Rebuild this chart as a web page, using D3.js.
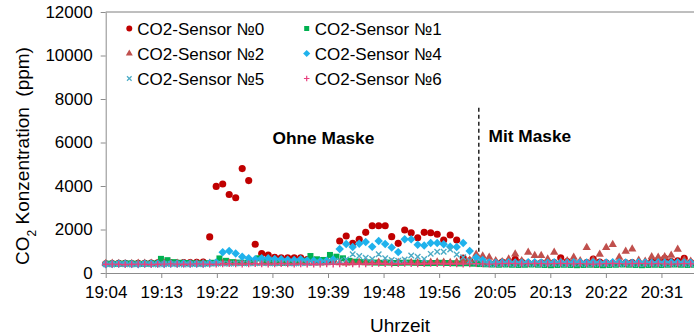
<!DOCTYPE html>
<html>
<head>
<meta charset="utf-8">
<script src="https://cdn.jsdelivr.net/npm/d3@7"></script>
<style>
  body { margin: 0; background: #fff; }
  svg { display: block; font-family: "Liberation Sans", Arial, sans-serif; }
</style>
</head>
<body>
<div id="chart"></div>
<script>
// minutes after 19:04, one sample per minute
const tickLabels = ['19:04', '19:13', '19:22', '19:30', '19:39', '19:48', '19:56', '20:05', '20:13', '20:22', '20:31'];
const tickStep = 8.55;
const yTicks = [0, 2000, 4000, 6000, 8000, 10000, 12000];

const seriesNames = ['CO2-Sensor №0', 'CO2-Sensor №1', 'CO2-Sensor №2', 'CO2-Sensor №4', 'CO2-Sensor №5', 'CO2-Sensor №6'];
const startOffsets = [0, 0.5, 0, 0, 0, 0];

const sensor0 = [
  420, 430, 440, 440, 430, 450, 450, 460, 470, 460,
  470, 460, 480, 480, 490, 500, 1660, 3980, 4090, 3610,
  3460, 4800, 4250, 1320, 890, 830, 720, 700, 700, 700,
  700, 620, 580, 560, 540, 560, 1470, 1700, 1365, 1550,
  1870, 2175, 2175, 2175, 1670, 1365, 1977, 1853, 1623, 1870,
  1853, 1780, 1517, 1747, 1517, 690, 560, 480, 460, 450,
  470, 500, 520, 630, 500, 460, 450, 470, 460, 480,
  700, 520, 470, 460, 480, 640, 500, 470, 450, 460,
  470, 480, 460, 450, 520, 600, 675, 520, 560, 675,
  480];
const sensor1 = [
  430, 420, 430, 440, 430, 420, 430, 440, 650, 590,
  500, 470, 460, 450, 440, 450, 470, 670, 560, 500,
  480, 470, 520, 675, 520, 480, 470, 460, 480, 500,
  560, 780, 630, 600, 830, 750, 675, 560, 520, 500,
  490, 480, 470, 480, 460, 470, 480, 470, 460, 450,
  460, 470, 460, 450, 440, 450, 430, 410, 400, 390,
  380, 390, 380, 370, 380, 390, 380, 370, 360, 370,
  380, 370, 360, 370, 380, 370, 360, 370, 380, 390,
  380, 370, 360, 370, 380, 370, 380, 390, 380, 370,
  380];
const sensor2 = [
  430, 440, 430, 420, 430, 440, 450, 440, 430, 440,
  450, 440, 430, 440, 450, 460, 450, 440, 450, 460,
  450, 460, 470, 460, 450, 460, 470, 460, 450, 460,
  470, 460, 450, 460, 470, 480, 470, 460, 470, 480,
  470, 480, 490, 480, 470, 480, 490, 480, 470, 480,
  490, 500, 490, 480, 500, 520, 600, 860, 780, 720,
  560, 520, 640, 870, 560, 950, 800, 800, 640, 950,
  540, 560, 720, 560, 1170, 600, 860, 1170, 1310, 720,
  1000, 1100, 580, 540, 740, 720, 740, 810, 1090, 600,
  540];
const sensor4 = [
  400, 410, 430, 420, 410, 400, 420, 430, 420, 410,
  420, 430, 440, 430, 420, 430, 450, 480, 950, 1010,
  900, 750, 675, 630, 675, 675, 640, 630, 610, 600,
  630, 580, 560, 540, 560, 620, 1100, 1330, 1200, 1340,
  1430, 1210, 1470, 1330, 1170, 960, 1550, 1550, 1300, 1260,
  1380, 1380, 1320, 1210, 1190, 1380, 1010, 710, 600, 480,
  470, 480, 490, 480, 470, 490, 500, 480, 470, 490,
  480, 470, 490, 500, 480, 490, 470, 480, 490, 500,
  480, 470, 490, 480, 470, 490, 480, 500, 490, 480,
  470];
const sensor5 = [
  400, 390, 410, 400, 390, 400, 410, 400, 390, 400,
  410, 400, 390, 400, 410, 400, 420, 430, 440, 430,
  440, 450, 440, 450, 460, 450, 440, 460, 450, 440,
  450, 460, 470, 480, 500, 520, 560, 620, 860, 780,
  700, 640, 860, 680, 600, 560, 620, 800, 750, 640,
  880, 980, 980, 1080, 850, 720, 560, 480, 420, 410,
  400, 410, 420, 400, 410, 420, 410, 400, 410, 420,
  410, 400, 410, 420, 400, 410, 420, 410, 400, 410,
  420, 410, 400, 410, 420, 410, 400, 410, 420, 410,
  400];
const sensor6 = [
  400, 410, 400, 390, 400, 410, 400, 390, 400, 410,
  420, 410, 400, 410, 420, 410, 400, 410, 420, 430,
  420, 410, 420, 430, 420, 410, 420, 430, 420, 410,
  420, 410, 400, 410, 420, 410, 420, 430, 420, 410,
  420, 430, 440, 430, 420, 430, 440, 430, 420, 430,
  440, 430, 420, 430, 420, 410, 420, 430, 420, 410,
  420, 430, 440, 430, 420, 430, 440, 430, 420, 430,
  440, 430, 420, 430, 420, 410, 420, 430, 440, 430,
  420, 430, 440, 430, 420, 430, 420, 410, 420, 430,
  420];

const maskChange = 57.4;          // dashed separator, minutes
const maskLineRange = [7600, 450];
const sectionLabels = ['Ohne Maske', 'Mit Maske'];

const width = 694, height = 335;
const margin = { top: 12, right: 0, bottom: 62, left: 105.7 };

const svg = d3.select('#chart').append('svg')
  .attr('width', width)
  .attr('height', height);

const x = d3.scaleLinear().domain([0, 92]).range([margin.left, margin.left + 598]);
const y = d3.scaleLinear().domain([0, 12000]).range([height - margin.bottom, margin.top]);

// symbols
const plusSym = { draw(ctx, size) { const r = Math.sqrt(size) / 2; ctx.moveTo(-r, 0); ctx.lineTo(r, 0); ctx.moveTo(0, -r); ctx.lineTo(0, r); } };
const crossSym = { draw(ctx, size) { const r = Math.sqrt(size) / 2; ctx.moveTo(-r, -r); ctx.lineTo(r, r); ctx.moveTo(-r, r); ctx.lineTo(r, -r); } };
const diamondSym = { draw(ctx, size) { const r = Math.sqrt(size / 2); ctx.moveTo(0, -r); ctx.lineTo(r, 0); ctx.lineTo(0, r); ctx.lineTo(-r, 0); ctx.closePath(); } };

const styles = [
  { type: d3.symbolCircle, size: 40, color: '#C00000', stroke: false },
  { type: d3.symbolSquare, size: 36, color: '#00B050', stroke: false },
  { type: d3.symbolTriangle, size: 30, color: '#C0504D', stroke: false },
  { type: diamondSym, size: 36, color: '#1FB2EC', stroke: false },
  { type: crossSym, size: 30, color: '#4BACC6', stroke: true },
  { type: plusSym, size: 44, color: '#E8407F', stroke: true }
];
const allSeries = [sensor0, sensor1, sensor2, sensor4, sensor5, sensor6];

// axes
const axisColor = '#8c8c8c';
svg.append('line')
  .attr('x1', x(0)).attr('x2', width)
  .attr('y1', y(12000)).attr('y2', y(12000))
  .attr('stroke', '#7f7f7f');

const yAxis = svg.append('g')
  .attr('transform', `translate(${x(0)},0)`)
  .call(d3.axisLeft(y).tickValues(yTicks).tickFormat(d3.format('d'))
    .tickSize(5).tickPadding(8).tickSizeOuter(0));
const xAxis = svg.append('g')
  .attr('transform', `translate(0,${y(0)})`)
  .call(d3.axisBottom(x)
    .tickValues(tickLabels.map((d, i) => i * tickStep))
    .tickFormat((d, i) => tickLabels[i])
    .tickSize(5).tickPadding(8).tickSizeOuter(0));

[xAxis, yAxis].forEach(g => {
  g.select('.domain').attr('stroke', axisColor);
  g.selectAll('.tick line').attr('stroke', axisColor);
  g.selectAll('.tick text').attr('fill', '#000').style('font-size', '17px');
});

// dashed separator
svg.append('line')
  .attr('x1', x(maskChange)).attr('x2', x(maskChange))
  .attr('y1', y(maskLineRange[0])).attr('y2', y(maskLineRange[1]))
  .attr('stroke', '#222').attr('stroke-width', 1.5)
  .attr('stroke-dasharray', '4,3');

// data
allSeries.forEach((vals, s) => {
  const st = styles[s];
  const sym = d3.symbol().type(st.type).size(st.size);
  svg.append('g')
    .selectAll('path')
    .data(vals)
    .join('path')
    .attr('transform', (d, i) => `translate(${x(i + startOffsets[s])},${y(d)})`)
    .attr('d', sym)
    .attr('fill', st.stroke ? 'none' : st.color)
    .attr('stroke', st.stroke ? st.color : 'none')
    .attr('stroke-width', st.stroke ? 1.4 : 0);
});

// section labels
svg.append('text')
  .attr('x', x(33.5)).attr('y', y(5930))
  .attr('text-anchor', 'middle')
  .style('font-size', '17.3px').style('font-weight', 'bold')
  .text(sectionLabels[0]);
svg.append('text')
  .attr('x', x(58.9)).attr('y', y(6014))
  .style('font-size', '17.3px').style('font-weight', 'bold')
  .text(sectionLabels[1]);

// legend
const legend = svg.append('g');
const legCols = [129.3, 306.7];
const legRows = [28.5, 53.5, 78.5];
seriesNames.forEach((name, i) => {
  const st = styles[i];
  const cx = legCols[i % 2], cy = legRows[Math.floor(i / 2)];
  legend.append('path')
    .attr('transform', `translate(${cx},${cy})`)
    .attr('d', d3.symbol().type(st.type).size(st.size * 0.7))
    .attr('fill', st.stroke ? 'none' : st.color)
    .attr('stroke', st.stroke ? st.color : 'none')
    .attr('stroke-width', st.stroke ? 1.2 : 0);
  legend.append('text')
    .attr('x', cx + 8).attr('y', cy + 6)
    .style('font-size', '17px')
    .text(name);
});

// axis titles
svg.append('text')
  .attr('x', 400).attr('y', 332)
  .attr('text-anchor', 'middle')
  .style('font-size', '19px')
  .text('Uhrzeit');

const yTitle = svg.append('text')
  .attr('transform', 'translate(29,156) rotate(-90)')
  .attr('text-anchor', 'middle')
  .style('font-size', '19px');
yTitle.append('tspan').text('CO');
yTitle.append('tspan').attr('baseline-shift', 'sub').style('font-size', '12px').text('2');
yTitle.append('tspan').text(' Konzentration  (ppm)').attr('xml:space', 'preserve');
</script>
</body>
</html>
